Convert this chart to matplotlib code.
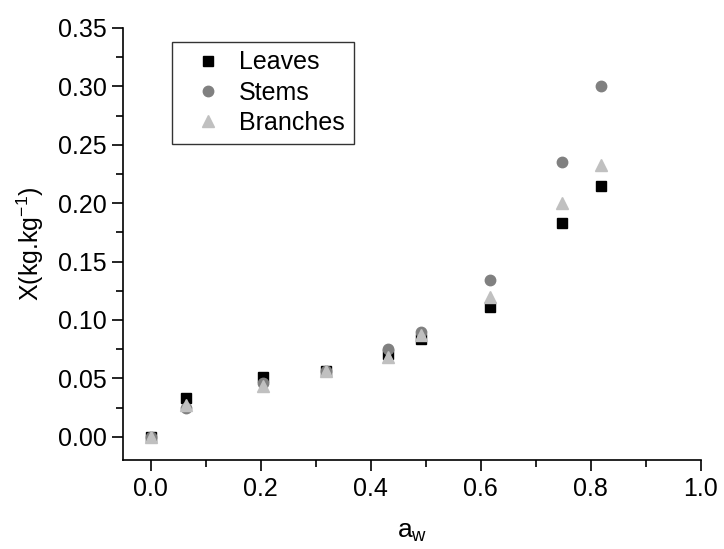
import matplotlib
matplotlib.use('Agg')
import matplotlib.pyplot as plt
from matplotlib.ticker import MultipleLocator, FormatStrFormatter

plt.rcParams['font.family'] = ['Liberation Sans', 'DejaVu Sans']
plt.rcParams['mathtext.fontset'] = 'custom'
plt.rcParams['mathtext.rm'] = 'Liberation Sans'
plt.rcParams['mathtext.it'] = 'Liberation Sans'

# water activity and moisture content
aw = [0.0, 0.0635, 0.2045, 0.319, 0.432, 0.491, 0.616, 0.748, 0.818]
leaves = [0.0, 0.033, 0.051, 0.056, 0.071, 0.084, 0.111, 0.183, 0.215]
stems = [0.0, 0.025, 0.046, 0.056, 0.075, 0.090, 0.134, 0.235, 0.300]
branches = [0.0, 0.027, 0.043, 0.056, 0.068, 0.087, 0.120, 0.200, 0.233]

FS = 18

fig = plt.figure(figsize=(7.24, 5.49), dpi=100)
ax = fig.add_axes([0.170, 0.162, 0.798, 0.787])

ax.plot(aw, leaves, 's', color='black', markersize=6.8, label='Leaves')
ax.plot(aw, stems, 'o', color='#808080', markersize=7.5, label='Stems')
ax.plot(aw, branches, '^', color='#c0c0c0', markersize=9, label='Branches')

ax.set_xlim(-0.05, 1.0)
ax.set_ylim(-0.02, 0.35)
ax.spines['top'].set_visible(False)
ax.spines['right'].set_visible(False)
for s in ['left', 'bottom']:
    ax.spines[s].set_linewidth(1.2)

ax.xaxis.set_major_locator(MultipleLocator(0.2))
ax.xaxis.set_minor_locator(MultipleLocator(0.1))
ax.yaxis.set_major_locator(MultipleLocator(0.05))
ax.yaxis.set_minor_locator(MultipleLocator(0.025))
ax.xaxis.set_major_formatter(FormatStrFormatter('%.1f'))
ax.yaxis.set_major_formatter(FormatStrFormatter('%.2f'))
ax.tick_params(which='major', direction='out', length=8, width=1.2, labelsize=FS, pad=4)
ax.tick_params(which='minor', direction='out', length=5, width=1.2)

ax.set_xlabel('a$_\\mathrm{w}$', fontsize=FS + 1, labelpad=14)
ax.set_ylabel('X(kg.kg$^{-1}$)', fontsize=FS, labelpad=8)

leg = ax.legend(loc='upper left', bbox_to_anchor=(171.7 / 724, 1 - 41.7 / 549),
                bbox_transform=fig.transFigure, borderaxespad=0,
                fontsize=FS, frameon=True, fancybox=False, shadow=False,
                handletextpad=0.15, labelspacing=0.25, borderpad=0.35,
                handlelength=2.2)
leg.get_frame().set_edgecolor('black')
leg.get_frame().set_linewidth(1.0)

fig.savefig('out.png', dpi=100)
